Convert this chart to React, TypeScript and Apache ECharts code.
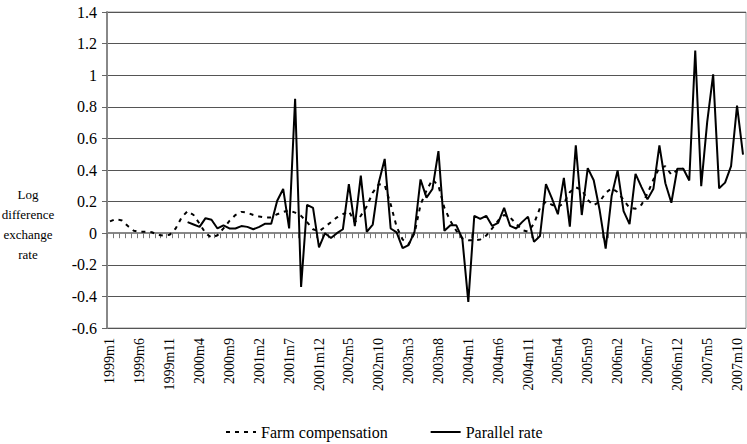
import React, { useEffect, useRef } from "react";
import * as echarts from "echarts";

// Monthly categories 1999m1 .. 2007m11
const years = [1999, 2000, 2001, 2002, 2003, 2004, 2005, 2006, 2007];
const lastMonthOfLastYear = 11;
const categories: string[] = [];
years.forEach((y) => {
  const maxM = y === 2007 ? lastMonthOfLastYear : 12;
  for (let m = 1; m <= maxM; m++) categories.push(`${y}m${m}`);
});

const yTicks = { min: -0.6, max: 1.4, interval: 0.2 };

// Farm compensation (dashed), 1999m1 .. 2007m1
const farmCompensation = [
  0.075, 0.09, 0.08, 0.045, 0.015, 0.008, 0.01, 0.006, -0.01, -0.015,
  -0.01, 0.03, 0.1, 0.14, 0.115, 0.06, 0.0, -0.028, -0.013, 0.03,
  0.078, 0.115, 0.135, 0.13, 0.115, 0.105, 0.099, 0.1, 0.12, 0.135,
  0.145, 0.13, 0.11, 0.07, 0.025, 0.012, 0.04, 0.07, 0.1, 0.12,
  0.14, 0.07, 0.11, 0.17, 0.257, 0.31, 0.305, 0.183, 0.04, -0.04,
  -0.07, 0.0, 0.18, 0.27, 0.34, 0.3, 0.16, 0.078, 0.015, -0.033,
  -0.045, -0.045, -0.04, -0.015, 0.03, 0.08, 0.115, 0.1, 0.06, 0.02,
  0.01, 0.06, 0.16, 0.2, 0.18, 0.165, 0.19, 0.26, 0.29, 0.275,
  0.21, 0.177, 0.2, 0.255, 0.285, 0.26, 0.21, 0.16, 0.155, 0.18,
  0.25, 0.34, 0.414, 0.424, 0.37, 0.4, 0.41,
];

// Parallel rate (solid), starts 2000m2
const parallelRate = [
  null, null, null, null, null, null, null, null, null, null,
  null, null, null, 0.07, 0.055, 0.04, 0.095, 0.085, 0.03, 0.05,
  0.03, 0.03, 0.045, 0.04, 0.025, 0.04, 0.06, 0.06, 0.205, 0.28,
  0.03, 0.85, -0.34, 0.18, 0.16, -0.09, 0.0, -0.03, 0.0, 0.025,
  0.31, 0.045, 0.365, 0.008, 0.055, 0.32, 0.47, 0.03, 0.005, -0.095,
  -0.075, 0.01, 0.34, 0.225, 0.28, 0.52, 0.015, 0.05, 0.05, -0.035,
  -0.435, 0.11, 0.09, 0.11, 0.046, 0.065, 0.16, 0.046, 0.03, 0.07,
  0.105, -0.055, -0.018, 0.31, 0.22, 0.12, 0.35, 0.042, 0.556, 0.115,
  0.412, 0.335, 0.145, -0.097, 0.235, 0.397, 0.14, 0.057, 0.376, 0.292,
  0.214, 0.282, 0.556, 0.316, 0.193, 0.408, 0.408, 0.334, 1.156, 0.298,
  0.703, 1.005, 0.284, 0.32, 0.424, 0.808, 0.498,
];

const seriesNames = ["Farm compensation", "Parallel rate"];
const yAxisTitle = "Log\ndifference\nexchange\nrate";

const FONT = "'Liberation Serif', 'Times New Roman', serif";

export default function App() {
  const ref = useRef<HTMLDivElement>(null);
  useEffect(() => {
    if (!ref.current) return;
    const chart = echarts.init(ref.current, undefined, { renderer: "svg" });
    chart.setOption({
      animation: false,
      backgroundColor: "#fff",
      grid: {
        left: 107,
        right: 1,
        top: 12,
        bottom: 116,
        show: true,
        borderColor: "#999",
        borderWidth: 1,
        backgroundColor: "transparent",
      },
      legend: {
        data: seriesNames,
        left: 220,
        top: 419,
        itemWidth: 30,
        itemHeight: 14,
        itemGap: 42,
        itemStyle: { opacity: 0 },
        textStyle: { fontFamily: FONT, fontSize: 16, color: "#000" },
      },
      graphic: [
        {
          type: "text",
          x: 28,
          y: 224.5,
          style: {
            text: yAxisTitle,
            fontFamily: FONT,
            fontSize: 13,
            lineHeight: 19.7,
            fill: "#000",
            align: "center",
            verticalAlign: "middle",
          },
        },
      ],
      xAxis: [
        {
          type: "category",
          data: categories,
          position: "bottom",
          boundaryGap: true,
          axisLine: { show: false, onZero: false },
          axisTick: { show: false },
          splitLine: { show: false },
          axisLabel: {
            interval: 4,
            rotate: 90,
            margin: 10,
            fontFamily: FONT,
            fontSize: 14,
            color: "#000",
          },
        },
        {
          type: "category",
          data: categories,
          position: "bottom",
          boundaryGap: true,
          axisLine: { show: true, onZero: true, lineStyle: { color: "#888", width: 2 } },
          axisTick: { show: true, interval: 0, length: 5, lineStyle: { color: "#777", width: 1 } },
          axisLabel: { show: false },
          splitLine: { show: false },
        },
      ],
      yAxis: {
        type: "value",
        min: yTicks.min,
        max: yTicks.max,
        interval: yTicks.interval,
        axisLine: { show: true, lineStyle: { color: "#888", width: 2 } },
        axisTick: { show: true, length: 5, lineStyle: { color: "#666" } },
        axisLabel: {
          fontFamily: FONT,
          fontSize: 16,
          color: "#000",
          margin: 10,
          formatter: (v: number) => String(parseFloat(v.toFixed(1))),
        },
        splitLine: { show: true, lineStyle: { color: "#555", width: 1 } },
      },
      series: [
        {
          name: seriesNames[0],
          type: "line",
          xAxisIndex: 0,
          data: farmCompensation,
          symbol: "none",
          showSymbol: false,
          lineStyle: { color: "#000", width: 2, type: [4, 5] },
          itemStyle: { color: "#000" },
          z: 3,
        },
        {
          name: seriesNames[1],
          type: "line",
          xAxisIndex: 0,
          data: parallelRate,
          symbol: "none",
          showSymbol: false,
          connectNulls: false,
          lineStyle: { color: "#000", width: 2 },
          itemStyle: { color: "#000" },
          z: 4,
        },
      ],
    });
    return () => chart.dispose();
  }, []);
  return (
    <div
      ref={ref}
      style={{ position: "fixed", left: 0, top: 0, width: 747, height: 444, background: "#fff" }}
    />
  );
}
